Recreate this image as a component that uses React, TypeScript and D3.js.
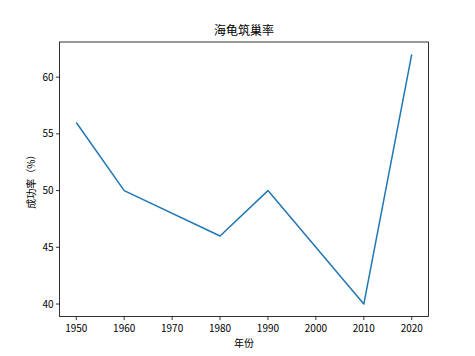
import React from "react";
import * as d3 from "d3";

const years = [1950, 1960, 1980, 1990, 2010, 2020];
const rates = [56, 50, 46, 50, 40, 62];
const xTicks = [1950, 1960, 1970, 1980, 1990, 2000, 2010, 2020];
const yTicks = [40, 45, 50, 55, 60];
const title = "海龟筑巢率";
const xLabel = "年份";
const yLabel = "成功率（%）";

const W = 475, H = 356;
const L = 59.5, R = 428.5, T = 42, B = 316.5;
const font = "'Noto Sans CJK SC', 'DejaVu Sans', sans-serif";

export default function App() {
  const x = d3.scaleLinear().domain([1946.5, 2023.5]).range([L, R]);
  const y = d3.scaleLinear().domain([38.9, 63.1]).range([B, T]);
  const line = d3.line<number>().x((_, i) => x(years[i])).y((d) => y(d));
  return (
    <svg width={W} height={H} style={{ position: "absolute", left: 0, top: 0, background: "#fff" }}>
      <rect x={0} y={0} width={W} height={H} fill="#fff" />
      <path d={line(rates) || ""} fill="none" stroke="#1f77b4" strokeWidth={1.5} strokeLinejoin="round" />
      <rect x={L} y={T} width={R - L} height={B - T} fill="none" stroke="#000" strokeWidth={0.8} />
      {xTicks.map((t) => (
        <g key={t}>
          <line x1={x(t)} x2={x(t)} y1={B} y2={B + 3.5} stroke="#000" strokeWidth={0.8} />
          <text x={x(t)} y={B + 15} textAnchor="middle" fontSize={10} fontFamily={font} fill="#000">{t}</text>
        </g>
      ))}
      {yTicks.map((t) => (
        <g key={t}>
          <line x1={L - 3.5} x2={L} y1={y(t)} y2={y(t)} stroke="#000" strokeWidth={0.8} />
          <text x={L - 6} y={y(t) + 3.5} textAnchor="end" fontSize={10} fontFamily={font} fill="#000">{t}</text>
        </g>
      ))}
      <text x={(L + R) / 2} y={B + 30} textAnchor="middle" fontSize={10} fontFamily={font} fill="#000">{xLabel}</text>
      <text transform={`translate(${L - 25},${(T + B) / 2}) rotate(-90)`} textAnchor="middle" fontSize={10} fontFamily={font} fill="#000">{yLabel}</text>
      <text x={(L + R) / 2} y={T - 7} textAnchor="middle" fontSize={12} fontFamily={font} fill="#000">{title}</text>
    </svg>
  );
}
